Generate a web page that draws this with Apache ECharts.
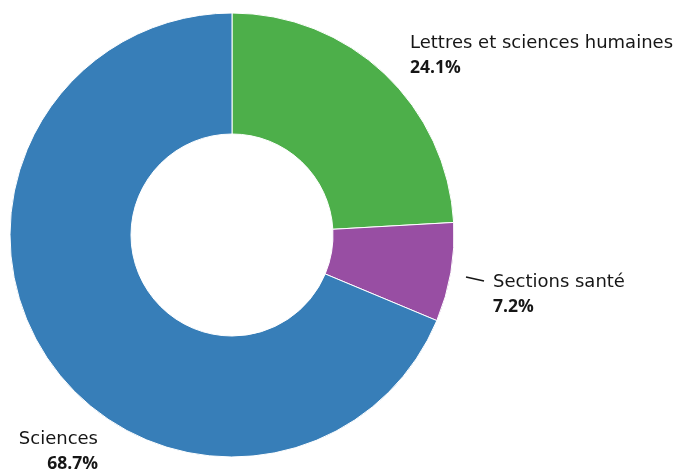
<!DOCTYPE html>
<html><head><meta charset="utf-8">
<script src="https://cdn.jsdelivr.net/npm/echarts@6/dist/echarts.min.js"></script>
<style>html,body{margin:0;padding:0;background:#fff}#c{width:683px;height:472px}</style>
</head><body><div id="c"></div>
<script>
const categories = ['Lettres et sciences humaines', 'Sections santé', 'Sciences'];
const values = [24.1, 7.2, 68.7];
const colors = ['#4daf4a', '#984ea3', '#377eb8'];

const labelPos = [
  {x: 410, y: 56, align: 'left', w: 272},
  {x: 493, y: 295, align: 'left', w: 180},
  {x: 98, y: 452, align: 'right', w: 95}
];
const FONT = 'DejaVu Sans';

const chart = echarts.init(document.getElementById('c'));
chart.setOption({
  animation: false,
  series: [{
    type: 'pie',
    center: [232, 235],
    radius: [101, 222],
    startAngle: 90,
    clockwise: true,
    avoidLabelOverlap: false,
    itemStyle: {borderColor: '#fff', borderWidth: 1},
    data: categories.map((n, i) => ({
      name: n, value: values[i], itemStyle: {color: colors[i]},
      label: {align: labelPos[i].align, width: labelPos[i].w},
      labelLine: {show: i === 1}
    })),
    label: {
      show: true, position: 'outside', overflow: 'none',
      fontFamily: FONT, fontSize: 18, color: '#161616', lineHeight: 25,
      formatter: p => '{n|' + p.name + '}\n{v|' + p.value.toFixed(1) + '%}',
      rich: {
        n: {fontFamily: FONT, fontSize: 18, color: '#161616', lineHeight: 25},
        v: {fontFamily: 'Open Sans', fontSize: 17.5, fontWeight: 'bold', color: '#161616', lineHeight: 25}
      }
    },
    labelLine: {lineStyle: {color: '#161616', width: 1.5}},
    labelLayout: function (p) {
      const l = labelPos[p.dataIndex];
      const r = {x: l.x, y: l.y, align: l.align, verticalAlign: 'middle'};
      if (p.dataIndex === 1) r.labelLinePoints = [[466, 277], [484, 281]];
      return r;
    }
  }]
});
</script></body></html>
